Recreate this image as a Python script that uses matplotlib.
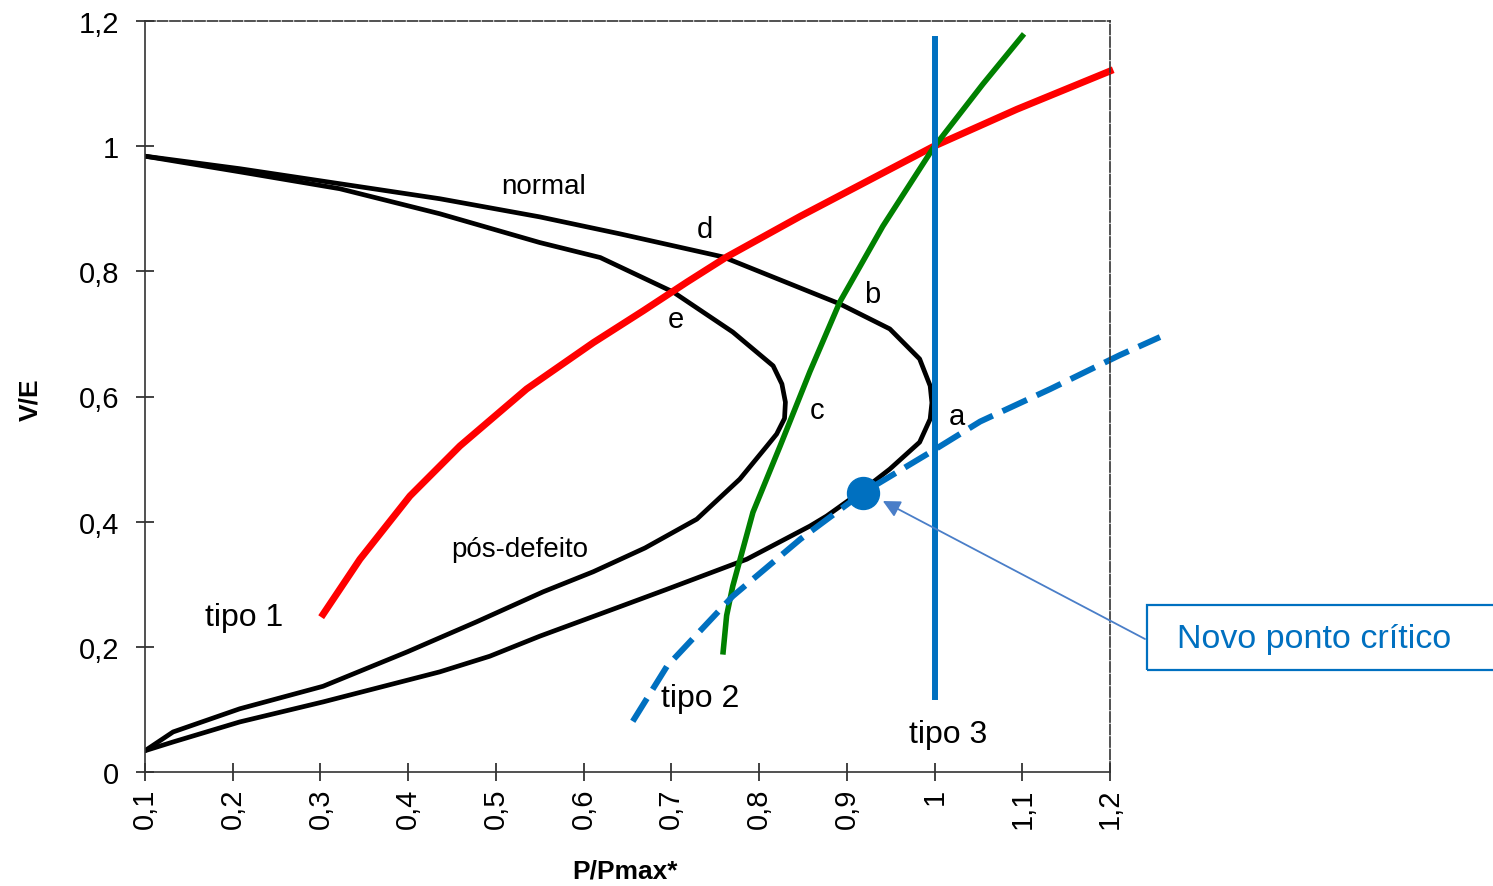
import matplotlib.pyplot as plt
import matplotlib.patches as mpatches
import numpy as np
from matplotlib.ticker import FuncFormatter

plt.rcParams["font.family"] = ["Liberation Sans", "DejaVu Sans"]

# normal curve: upper branch to the nose, then back along the lower branch
normal_x = [0.1, 0.208, 0.322, 0.436, 0.550, 0.641, 0.759, 0.892, 0.949, 0.983, 0.995,
            0.997, 0.995, 0.983, 0.949, 0.915, 0.877, 0.858, 0.786, 0.695, 0.641, 0.550,
            0.493, 0.436, 0.303, 0.208, 0.132, 0.1]
normal_y = [0.984, 0.964, 0.940, 0.916, 0.887, 0.860, 0.823, 0.748, 0.708, 0.660, 0.617,
            0.590, 0.564, 0.527, 0.484, 0.447, 0.409, 0.393, 0.340, 0.292, 0.264, 0.217,
            0.185, 0.160, 0.112, 0.080, 0.048, 0.034]

# post-fault curve
pos_x = [0.1, 0.208, 0.322, 0.436, 0.550, 0.619, 0.702, 0.770, 0.816, 0.826, 0.830,
         0.829, 0.820, 0.809, 0.778, 0.729, 0.670, 0.611, 0.554, 0.478, 0.399, 0.303,
         0.208, 0.132, 0.1]
pos_y = [0.984, 0.959, 0.932, 0.892, 0.846, 0.822, 0.767, 0.703, 0.649, 0.620, 0.591,
         0.565, 0.540, 0.521, 0.468, 0.404, 0.358, 0.320, 0.288, 0.240, 0.192, 0.137,
         0.101, 0.064, 0.034]

# load characteristics tipo 1, 2 and 3
tipo1_x = [0.303, 0.345, 0.402, 0.459, 0.535, 0.611, 0.668, 0.718, 0.763, 0.847,
           0.998, 1.094, 1.2]
tipo1_y = [0.252, 0.340, 0.441, 0.521, 0.612, 0.686, 0.737, 0.783, 0.823, 0.888,
           0.999, 1.059, 1.120]
tipo2_x = [0.759, 0.763, 0.770, 0.793, 0.824, 0.858, 0.892, 0.941, 0.998,
           1.055, 1.100]
tipo2_y = [0.192, 0.250, 0.297, 0.415, 0.521, 0.640, 0.751, 0.872, 0.996,
           1.099, 1.176]
tipo3_x = [1.0, 1.0]
tipo3_y = [0.12, 1.171]

# new load curve and the new critical point
novo_x = [0.656, 0.695, 0.770, 0.847, 0.918, 1.0, 1.052, 1.132, 1.211, 1.257]
novo_y = [0.081, 0.169, 0.281, 0.372, 0.446, 0.515, 0.560, 0.612, 0.666, 0.695]
ponto_x, ponto_y = 0.918, 0.446

W, H = 1493, 887
fig = plt.figure(figsize=(W / 100, H / 100), dpi=100)
ax = fig.add_axes([145 / W, 1 - 773 / H, 965 / W, 751 / H])

ax.plot(normal_x, normal_y, color="black", lw=3.4, solid_joinstyle="round", solid_capstyle="round")
ax.plot(pos_x, pos_y, color="black", lw=3.4, solid_joinstyle="round", solid_capstyle="round")
ax.plot(tipo1_x, tipo1_y, color="#ff0000", lw=5, solid_joinstyle="round", clip_on=False)
ax.plot(tipo2_x, tipo2_y, color="#008000", lw=4, solid_joinstyle="round", clip_on=False)
ax.plot(tipo3_x, tipo3_y, color="#0070c0", lw=4.3)
ax.plot(novo_x, novo_y, color="#0070c0", lw=4.3, ls=(0, (4.5, 1.8)), clip_on=False)
ax.plot(ponto_x, ponto_y, "o", color="#0070c0", ms=23, zorder=5)

ax.set_xlim(0.1, 1.2)
ax.set_ylim(0, 1.2)
ax.set_xticks(np.round(np.arange(0.1, 1.21, 0.1), 1))
ax.set_yticks([0, 0.2, 0.4, 0.6, 0.8, 1.0, 1.2])
fmt = FuncFormatter(lambda v, p: ("%g" % round(v, 1)).replace(".", ","))
ax.xaxis.set_major_formatter(fmt)
ax.yaxis.set_major_formatter(fmt)
ax.tick_params(direction="inout", length=13, width=1.2, labelsize=21, color="#222222")
ax.tick_params(axis="x", labelrotation=90, pad=5)
ax.tick_params(axis="y", pad=12)
for s in ax.spines.values():
    s.set_linewidth(1.2)
    s.set_color("#333333")
for side in ("top", "right"):
    ax.spines[side].set_linestyle((0, (6, 1.5)))

fig.text(625 / W, 1 - 872 / H, "P/Pmax*", fontsize=19, fontweight="bold",
         ha="center", va="center")
fig.text(30 / W, 1 - 400 / H, "V/E", fontsize=19, fontweight="bold",
         ha="center", va="center", rotation=90)

labels = [("normal", 0.554, 0.936, 20), ("d", 0.738, 0.868, 21), ("b", 0.929, 0.764, 21),
          ("e", 0.705, 0.724, 21), ("c", 0.866, 0.578, 21), ("a", 1.026, 0.569, 21),
          ("pós-defeito", 0.527, 0.356, 20), ("tipo 1", 0.213, 0.248, 23),
          ("tipo 2", 0.733, 0.118, 23), ("tipo 3", 1.015, 0.061, 23)]
for txt, x, y, size in labels:
    ax.text(x, y, txt, fontsize=size, ha="center", va="center", color="black")

# callout box for the new critical point
box = mpatches.Rectangle((1147 / W, 1 - 671 / H), 400 / W, 65 / H,
                         transform=fig.transFigure, fill=False,
                         ec="#0070c0", lw=1.6, clip_on=False)
fig.patches.append(box)
fig.text(1177 / W, 1 - 640 / H, "Novo ponto crítico", fontsize=24.5,
         color="#0070c0", ha="left", va="center")
ax.annotate("", xy=(0.941, 0.433), xycoords="data",
            xytext=(1145 / W, 1 - 640 / H), textcoords="figure fraction",
            arrowprops=dict(arrowstyle="-|>", color="#4a7ec8", lw=1.3,
                            mutation_scale=26, shrinkA=0, shrinkB=0),
            annotation_clip=False)

fig.savefig("out.png", dpi=100)
